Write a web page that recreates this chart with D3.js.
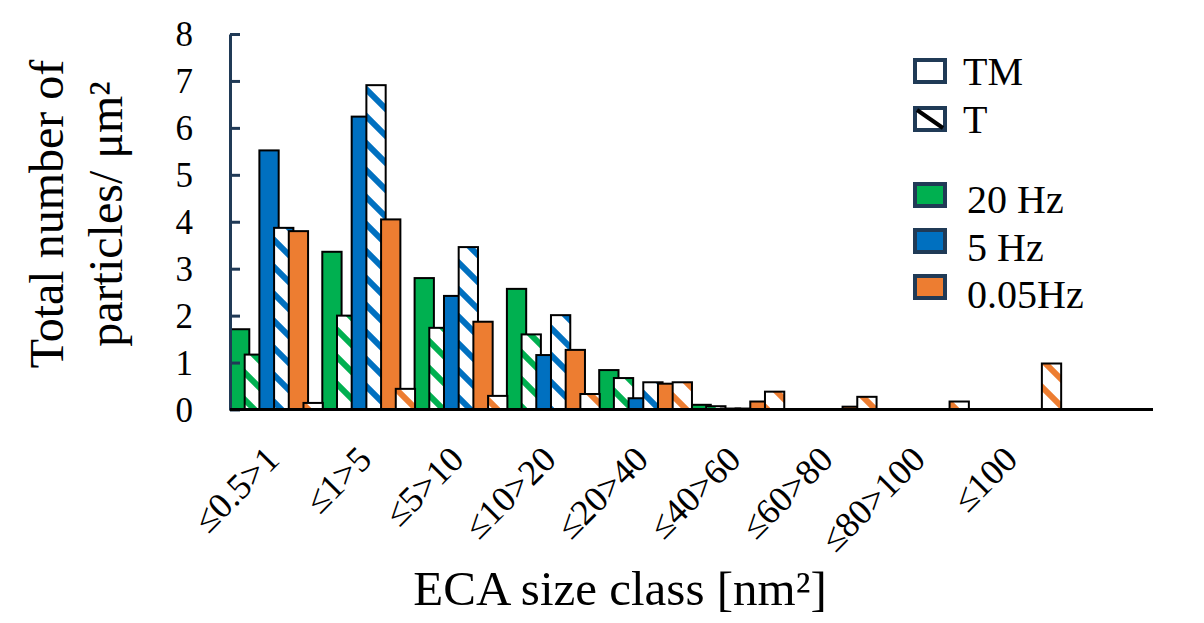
<!DOCTYPE html>
<html>
<head>
<meta charset="utf-8">
<script src="https://cdn.jsdelivr.net/npm/d3@7"></script>
<style>
  body { margin: 0; background: #fff; }
  text { font-family: "Liberation Serif", "Times New Roman", "DejaVu Serif", serif; fill: #000; }
</style>
</head>
<body>
<div id="chart"></div>
<script>
// size classes (last slot on the axis is left empty)
const categories = ["≤0.5>1", "≤1>5", "≤5>10", "≤10>20", "≤20>40", "≤40>60", "≤60>80", "≤80>100", "≤100"];
const yTickValues = [0, 1, 2, 3, 4, 5, 6, 7, 8];

// values
const hz20TM  = [1.71, 3.36, 2.80, 2.57, 0.84, 0.10, 0.01, 0.01, 0.01];
const hz20T   = [1.17, 2.00, 1.74, 1.60, 0.67, 0.07, 0.01, 0.01, 0.01];
const hz5TM   = [5.52, 6.24, 2.42, 1.16, 0.24, 0.02, 0.01, 0.01, 0.01];
const hz5T    = [3.87, 6.91, 3.46, 2.01, 0.58, 0.02, 0.01, 0.01, 0.01];
const hz005TM = [3.80, 4.05, 1.87, 1.27, 0.55, 0.17, 0.06, 0.01, 0.01];
const hz005T  = [0.14, 0.44, 0.29, 0.33, 0.58, 0.38, 0.27, 0.17, 0.98];

const legendTreat = ["TM", "T"];
const legendFreq = ["20 Hz", "5 Hz", "0.05Hz"];

const green = "#00B050", blue = "#0070C0", orange = "#ED7D31", navy = "#203A56";

const series = [
    { values: hz20TM,  color: green,  hatch: false },
    { values: hz20T,   color: green,  hatch: true },
    { values: hz5TM,   color: blue,   hatch: false },
    { values: hz5T,    color: blue,   hatch: true },
    { values: hz005TM, color: orange, hatch: false },
    { values: hz005T,  color: orange, hatch: true }
];

const W = 1204, H = 623;
const margin = { top: 34, right: 51, bottom: 213.5, left: 230 };
const width = W - margin.left - margin.right;
const height = H - margin.top - margin.bottom;

const svg = d3.select("#chart").append("svg")
    .attr("width", W)
    .attr("height", H);

// hatch patterns, "\" stripes
const defs = svg.append("defs");
const P = 27, sw = 6;
[green, blue, orange].forEach((c, i) => {
    const pat = defs.append("pattern")
        .attr("id", "hatch" + i)
        .attr("patternUnits", "userSpaceOnUse")
        .attr("width", P).attr("height", P);
    pat.append("rect").attr("width", P).attr("height", P).attr("fill", "#fff");
    pat.append("path")
        .attr("d", `M${-P/4},${3*P/4} L${P/4},${5*P/4} M${-P/4},${-P/4} L${5*P/4},${5*P/4} M${3*P/4},${-P/4} L${5*P/4},${P/4}`)
        .attr("stroke", c)
        .attr("stroke-width", sw);
});
const hatchId = c => "url(#hatch" + [green, blue, orange].indexOf(c) + ")";

const g = svg.append("g")
    .attr("transform", `translate(${margin.left},${margin.top})`);

// scales
const x = d3.scaleBand()
    .domain(d3.range(categories.length + 1))
    .range([0, width])
    .padding(0);
const bw = x.bandwidth();
const barOffset = d3.scaleLinear().domain([0, series.length - 1]).range([0, bw * 0.796]);
const barW = bw * 0.209;

const y = d3.scaleLinear()
    .domain([0, 8])
    .range([height, 0]);

// bars, each series on top of the previous one
series.forEach((s, si) => {
    g.append("g").selectAll("rect")
        .data(s.values)
        .join("rect")
        .attr("x", (d, i) => x(i) + barOffset(si))
        .attr("y", d => y(d))
        .attr("width", barW)
        .attr("height", d => y(0) - y(d))
        .attr("fill", s.hatch ? hatchId(s.color) : s.color)
        .attr("stroke", "#000")
        .attr("stroke-width", 2);
});

// y axis
const yAxis = g.append("g")
    .call(d3.axisLeft(y).tickValues(yTickValues).tickSizeInner(-10).tickSizeOuter(0).tickPadding(37));
yAxis.select(".domain").attr("stroke", navy).attr("stroke-width", 3);
yAxis.selectAll(".tick line").attr("stroke", navy).attr("stroke-width", 3);
yAxis.selectAll(".tick text")
    .attr("font-family", null)
    .attr("font-size", 35)
    .attr("dy", "0.34em")
    .style("fill", "#000");

// x axis line
g.append("line")
    .attr("x1", 0).attr("x2", width)
    .attr("y1", y(0)).attr("y2", y(0))
    .attr("stroke", "#000")
    .attr("stroke-width", 3);

// x labels, rotated
g.selectAll(".xlab")
    .data(categories)
    .join("text")
    .attr("class", "xlab")
    .attr("text-anchor", "end")
    .attr("font-size", 36)
    .attr("transform", (d, i) => `translate(${x(i) + bw / 2 + 5},${y(0) + 52}) rotate(-45)`)
    .text(d => d);

// axis titles
svg.append("text")
    .attr("x", 620)
    .attr("y", 605)
    .attr("text-anchor", "middle")
    .attr("font-size", 49)
    .text("ECA size class [nm²]");

const yTitle = svg.append("text")
    .attr("transform", "translate(63,214) rotate(-90)")
    .attr("text-anchor", "middle")
    .attr("font-size", 48);
yTitle.append("tspan").attr("x", 0).attr("dy", 0).text("Total number of");
yTitle.append("tspan").attr("x", 0).attr("dy", 59).text("particles/ μm²");

// legend
const leg = svg.append("g");
legendTreat.forEach((t, i) => {
    const cy = 71 + i * 48;
    leg.append("rect")
        .attr("x", 915).attr("y", cy - 11)
        .attr("width", 30).attr("height", 22)
        .attr("fill", "#fff")
        .attr("stroke", navy).attr("stroke-width", 4);
    if (t === "T") {
        leg.append("line")
            .attr("x1", 917).attr("y1", cy - 9)
            .attr("x2", 943).attr("y2", cy + 9)
            .attr("stroke", "#000").attr("stroke-width", 4);
    }
    leg.append("text")
        .attr("x", 963).attr("y", cy + 14)
        .attr("font-size", 40)
        .text(t);
});
[green, blue, orange].forEach((c, i) => {
    const cy = 195 + i * 46;
    leg.append("rect")
        .attr("x", 915).attr("y", cy - 11)
        .attr("width", 30).attr("height", 22)
        .attr("fill", c)
        .attr("stroke", navy).attr("stroke-width", 4);
    leg.append("text")
        .attr("x", 967).attr("y", cy + 18 + i * 1.5)
        .attr("font-size", 40)
        .text(legendFreq[i]);
});
</script>
</body>
</html>
